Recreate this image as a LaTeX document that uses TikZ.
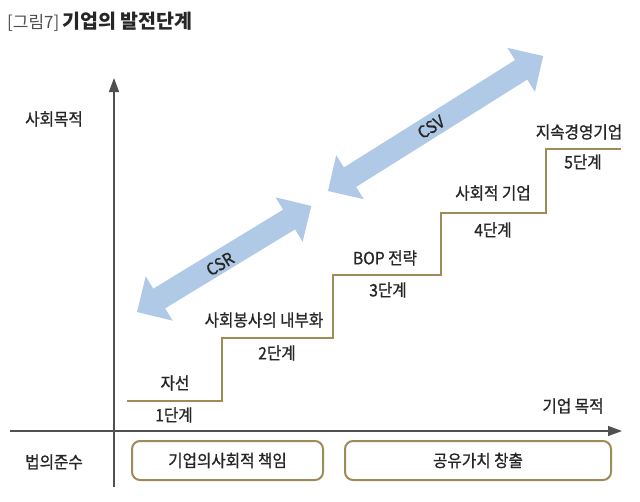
\documentclass[tikz,border=0pt]{standalone}
\usepackage{fontspec}
\setmainfont{Noto Sans CJK KR}
\newfontfamily\kr[FakeStretch=0.92,FakeBold=0.9]{Noto Sans CJK KR}
\newfontfamily\krtitle{Noto Sans CJK KR}
\usetikzlibrary{arrows.meta}
\definecolor{gold}{HTML}{A08B58}
\definecolor{ablue}{HTML}{AFC9E6}
\definecolor{axisgray}{HTML}{505050}
\definecolor{txt}{HTML}{262626}
\begin{document}
\begin{tikzpicture}[x=1pt,y=-1pt,
  lbl/.style={font=\kr\fontsize{17}{19}\selectfont, text=txt, inner sep=0pt},
  stair/.style={draw=gold, line width=2.4pt, line join=miter},
  axis/.style={draw=axisgray, line width=1.4pt, -{Triangle[length=14pt,width=10pt]}},
  goal/.style={draw=gold, line width=2pt, rounded corners=8pt, text=txt,
    font=\kr\fontsize{17}{19}\selectfont, minimum height=39pt, inner sep=0pt},
  arrowlbl/.style={font=\kr\fontsize{17}{19}\selectfont, text=txt, inner sep=0pt},
]
\useasboundingbox (0,0) rectangle (640,501);

% title
\node[anchor=west, inner sep=0pt] (title) at (7,22)
  {{\krtitle\fontsize{17}{19}\selectfont\color{axisgray}[그림7]}\hspace{3pt}{\krtitle\fontsize{19.5}{21}\selectfont\color{txt}\textbf{기업의 발전단계}}};

% block arrows
\begin{scope}[shift={(137,312)}, rotate=31.3]
  \fill[ablue] (0,0) -- (26,26) -- (26,11.5) -- (178,11.5) -- (178,26) -- (204,0)
    -- (178,-26) -- (178,-11.5) -- (26,-11.5) -- (26,-26) -- cycle;
\end{scope}
\begin{scope}[shift={(328,191)}, rotate=32.1]
  \fill[ablue] (0,0) -- (26,26) -- (26,11.5) -- (228,11.5) -- (228,26) -- (254,0)
    -- (228,-26) -- (228,-11.5) -- (26,-11.5) -- (26,-26) -- cycle;
\end{scope}
\node[arrowlbl, rotate=31.3] (csrlbl) at (220,264) {CSR};
\node[arrowlbl, rotate=32.1] (csvlbl) at (431,127) {CSV};

% axes
\coordinate (yb) at (114,487);
\coordinate (yt) at (114,78);
\coordinate (xl) at (10,431);
\coordinate (xr) at (622,431);
\draw[axis] (yb) -- (yt);
\draw[axis] (xl) -- (xr);

\node[lbl] (ylab) at (54,119) {사회목적};
\node[lbl] (xlab) at (573,406) {기업 목적};
\node[lbl] (law) at (54,462) {법의준수};

% staircase
\coordinate (s0) at (127,401);
\coordinate (s1) at (222,401);
\coordinate (s2) at (222,338);
\coordinate (s3) at (333,338);
\coordinate (s4) at (333,275);
\coordinate (s5) at (441,275);
\coordinate (s6) at (441,213);
\coordinate (s7) at (546,213);
\coordinate (s8) at (546,149);
\coordinate (s9) at (621,149);
\draw[stair] (s0) -- (s1) -- (s2) -- (s3) -- (s4) -- (s5) -- (s6) -- (s7) -- (s8) -- (s9);

\node[lbl] (n1) at (175,383) {자선};
\node[lbl] (l1) at (174,415) {1단계};
\node[lbl] (n2) at (264,320) {사회봉사의 내부화};
\node[lbl] (l2) at (277,353) {2단계};
\node[lbl] (n3) at (385,258) {BOP 전략};
\node[lbl] (l3) at (388,290) {3단계};
\node[lbl] (n4) at (493,193) {사회적 기업};
\node[lbl] (l4) at (493,230) {4단계};
\node[lbl] (n5) at (579,132) {지속경영기업};
\node[lbl] (l5) at (583,162) {5단계};

% bottom boxes
\node[goal, minimum width=191pt] (bcsr) at (227.5,460.5) {기업의사회적 책임};
\node[goal, minimum width=266pt] (bcsv) at (478,460.5) {공유가치 창출};
\end{tikzpicture}
\end{document}
